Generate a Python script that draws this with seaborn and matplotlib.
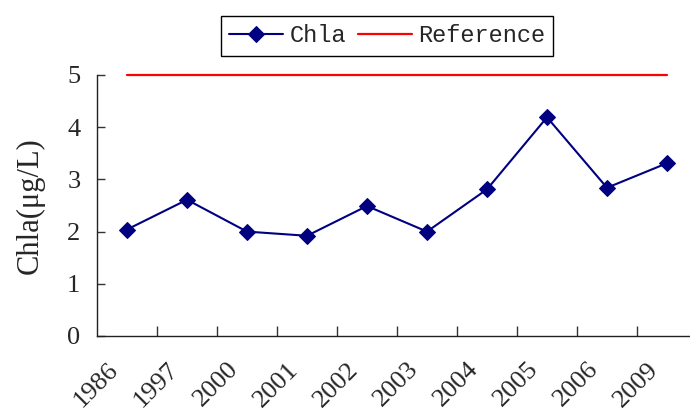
import numpy as np
import pandas as pd
import matplotlib
matplotlib.use("Agg")
import matplotlib.pyplot as plt
import matplotlib.transforms as mtransforms
import seaborn as sns
from matplotlib.ticker import FixedLocator, NullFormatter, FixedFormatter

years = ["1986", "1997", "2000", "2001", "2002", "2003", "2004", "2005", "2006", "2009"]
chla = [2.04, 2.61, 2.00, 1.92, 2.49, 2.00, 2.81, 4.19, 2.84, 3.31]
reference = [5.0] * len(years)
yticks = [0, 1, 2, 3, 4, 5]

sns.set_style("ticks")
plt.rcParams["font.family"] = ["Liberation Serif", "DejaVu Serif"]

df = pd.DataFrame({"year": years, "Chla": chla, "Reference": reference})

fig = plt.figure(figsize=(6.9, 4.12), dpi=100)
ax = fig.add_axes([97 / 690, 1 - 336 / 412, 600 / 690, (336 - 75) / 412])

sns.lineplot(data=df, x="year", y="Chla", ax=ax, color="#000080", lw=1.5,
             marker="D", markersize=8, markeredgecolor="#000080", label="Chla",
             sort=False)
sns.lineplot(data=df, x="year", y="Reference", ax=ax, color="#ff0000", lw=1.6,
             label="Reference", sort=False)
for line in ax.get_lines():
    line.set_clip_on(False)

ax.set_xlim(-0.5, len(years) - 0.5)
ax.set_ylim(0, 5)
ax.set_yticks(yticks)
ax.set_yticklabels([str(t) for t in yticks], fontsize=19)

# category boundaries carry the tick marks, centres carry the labels
ax.xaxis.set_major_locator(FixedLocator(np.arange(0.5, len(years) - 0.5, 1.0)))
ax.xaxis.set_major_formatter(NullFormatter())
ax.xaxis.set_minor_locator(FixedLocator(np.arange(len(years))))
ax.xaxis.set_minor_formatter(FixedFormatter(years))
ax.tick_params(axis="x", which="major", direction="in", length=7, width=1, color="#333333")
ax.tick_params(axis="x", which="minor", length=0, pad=0, labelsize=19)
shift = mtransforms.ScaledTranslation(-12 / 100, -30 / 100, fig.dpi_scale_trans)
for lbl in ax.get_xticklabels(minor=True):
    lbl.set_rotation(45)
    lbl.set_ha("right")
    lbl.set_va("center")
    lbl.set_rotation_mode("anchor")
    lbl.set_transform(lbl.get_transform() + shift)
ax.tick_params(axis="y", direction="in", length=6, width=1, color="#333333", pad=12)

ax.set_xlabel("")
ax.set_ylabel("Chla(μg/L)", fontsize=22, labelpad=16)

for side in ("top", "right"):
    ax.spines[side].set_visible(False)
for side in ("left", "bottom"):
    ax.spines[side].set_color("#222222")
    ax.spines[side].set_linewidth(1)

leg = ax.legend(loc="center", bbox_to_anchor=(387 / 690, 1 - 36 / 412),
                bbox_transform=fig.transFigure, ncol=2, frameon=True,
                fancybox=False, edgecolor="black", framealpha=1,
                prop={"family": "Liberation Mono", "size": 17},
                handlelength=2.3, handletextpad=0.25, columnspacing=0.5,
                borderpad=0.35)
leg.get_frame().set_linewidth(1)

fig.savefig("out.png", dpi=100)
